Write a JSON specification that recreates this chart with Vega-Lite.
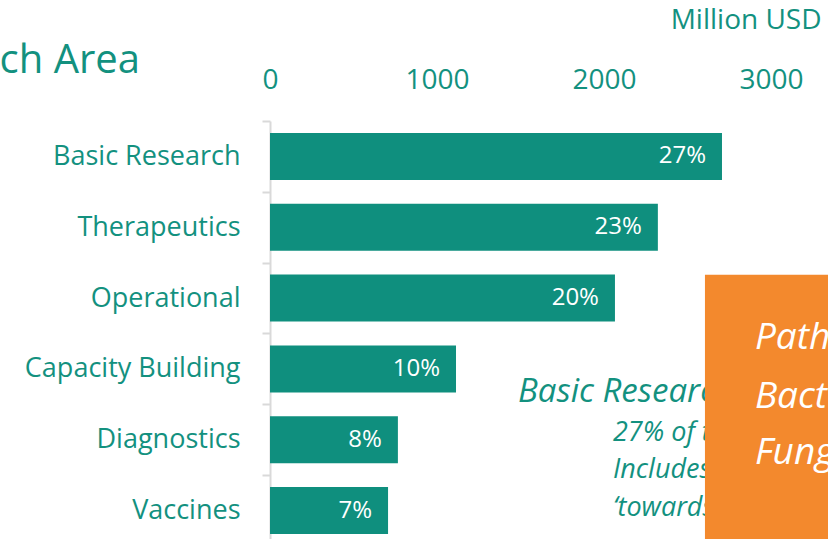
{
  "$schema": "https://vega.github.io/schema/vega-lite/v6.json",
  "width": 551,
  "height": 425,
  "autosize": {"type": "none"},
  "padding": {"left": 270, "top": 121, "right": 20, "bottom": 10},
  "background": "white",
  "title": {
    "text": "Funding by Research Area",
    "anchor": "start",
    "align": "right",
    "frame": "group",
    "dx": -130,
    "dy": 79,
    "fontSize": 40,
    "font": "Open Sans",
    "fontWeight": "normal",
    "color": "#13917f"
  },
  "config": {
    "view": {"stroke": null},
    "font": "Open Sans",
    "axisX": {
      "orient": "top",
      "domain": false,
      "ticks": false,
      "grid": false,
      "labelFontSize": 28,
      "labelColor": "#13917f",
      "labelFont": "Open Sans",
      "labelPadding": 27,
      "labelFlush": false,
      "titleAnchor": "end",
      "titleFontSize": 28,
      "titleFontWeight": "normal",
      "titleFont": "Open Sans",
      "titleColor": "#13917f",
      "titlePadding": 32
    }
  },
  "datasets": {
    "bars": [
      {"area": "Basic Research", "usd": 2707, "pct": "27%"},
      {"area": "Therapeutics", "usd": 2323, "pct": "23%"},
      {"area": "Operational", "usd": 2066, "pct": "20%"},
      {"area": "Capacity Building", "usd": 1114, "pct": "10%"},
      {"area": "Diagnostics", "usd": 766, "pct": "8%"},
      {"area": "Vaccines", "usd": 707, "pct": "7%"}
    ],
    "box": [{"usd": 2605, "usd2": 3600, "y": 2.17, "y2": 6.5}],
    "heading": [{"usd": 1485, "y": 3.83, "t": "Basic Research"}],
    "notes": [
      {"usd": 2054, "y": 4.4, "t": "27% of total funding"},
      {"usd": 2054, "y": 4.93, "t": "Includes research"},
      {"usd": 2054, "y": 5.46, "t": "‘towards new drugs’"}
    ],
    "boxtext": [
      {"usd": 2904, "y": 3.07, "t": "Pathogens:"},
      {"usd": 2904, "y": 3.9, "t": "Bacteria"},
      {"usd": 2904, "y": 4.68, "t": "Fungi"}
    ]
  },
  "layer": [
    {
      "data": {"name": "bars"},
      "encoding": {
        "y": {
          "field": "area",
          "type": "nominal",
          "sort": null,
          "scale": {"paddingInner": 0.336, "paddingOuter": 0.168},
          "axis": {
            "title": null,
            "bandPosition": 0,
            "tickOffset": -12,
            "labelOffset": 12,
            "domainColor": "#d9d9d9",
            "domainWidth": 2,
            "tickColor": "#d9d9d9",
            "tickWidth": 2,
            "tickSize": 8,
            "labelPadding": 22,
            "labelFontSize": 27,
            "labelColor": "#13917f",
            "labelFont": "Open Sans",
            "labelLimit": 400
          }
        },
        "x": {
          "field": "usd",
          "type": "quantitative",
          "scale": {"domain": [0, 3300], "nice": false},
          "axis": {"title": "Million USD", "values": [0, 1000, 2000, 3000], "format": "d"}
        }
      },
      "layer": [
        {"mark": {"type": "bar", "color": "#0f8f7e"}},
        {
          "mark": {"type": "text", "align": "right", "baseline": "middle", "dx": -16, "color": "white", "fontSize": 24, "font": "Open Sans"},
          "encoding": {"text": {"field": "pct"}}
        }
      ]
    },
    {
      "data": {"name": "heading"},
      "mark": {"type": "text", "align": "left", "baseline": "middle", "fontStyle": "italic", "fontSize": 33, "font": "Open Sans", "color": "#13917f"},
      "encoding": {
        "x": {"field": "usd", "type": "quantitative", "scale": {"domain": [0, 3300], "nice": false}, "axis": {"title": "Million USD", "values": [0, 1000, 2000, 3000], "format": "d"}},
        "y": {"field": "y", "type": "quantitative", "scale": {"domain": [0, 6], "reverse": true, "nice": false, "zero": false}, "axis": null},
        "text": {"field": "t"}
      }
    },
    {
      "data": {"name": "notes"},
      "mark": {"type": "text", "align": "left", "baseline": "middle", "fontStyle": "italic", "fontSize": 27, "font": "Open Sans", "color": "#13917f"},
      "encoding": {
        "x": {"field": "usd", "type": "quantitative", "scale": {"domain": [0, 3300], "nice": false}, "axis": {"title": "Million USD", "values": [0, 1000, 2000, 3000], "format": "d"}},
        "y": {"field": "y", "type": "quantitative", "scale": {"domain": [0, 6], "reverse": true, "nice": false, "zero": false}, "axis": null},
        "text": {"field": "t"}
      }
    },
    {
      "data": {"name": "box"},
      "mark": {"type": "rect", "color": "#f3892d"},
      "encoding": {
        "x": {"field": "usd", "type": "quantitative", "scale": {"domain": [0, 3300], "nice": false}, "axis": {"title": "Million USD", "values": [0, 1000, 2000, 3000], "format": "d"}},
        "x2": {"field": "usd2"},
        "y": {"field": "y", "type": "quantitative", "scale": {"domain": [0, 6], "reverse": true, "nice": false, "zero": false}, "axis": null},
        "y2": {"field": "y2"}
      }
    },
    {
      "data": {"name": "boxtext"},
      "mark": {"type": "text", "align": "left", "baseline": "middle", "fontStyle": "italic", "fontSize": 37, "font": "Open Sans", "color": "white"},
      "encoding": {
        "x": {"field": "usd", "type": "quantitative", "scale": {"domain": [0, 3300], "nice": false}, "axis": {"title": "Million USD", "values": [0, 1000, 2000, 3000], "format": "d"}},
        "y": {"field": "y", "type": "quantitative", "scale": {"domain": [0, 6], "reverse": true, "nice": false, "zero": false}, "axis": null},
        "text": {"field": "t"}
      }
    }
  ],
  "resolve": {"scale": {"y": "independent"}}
}
